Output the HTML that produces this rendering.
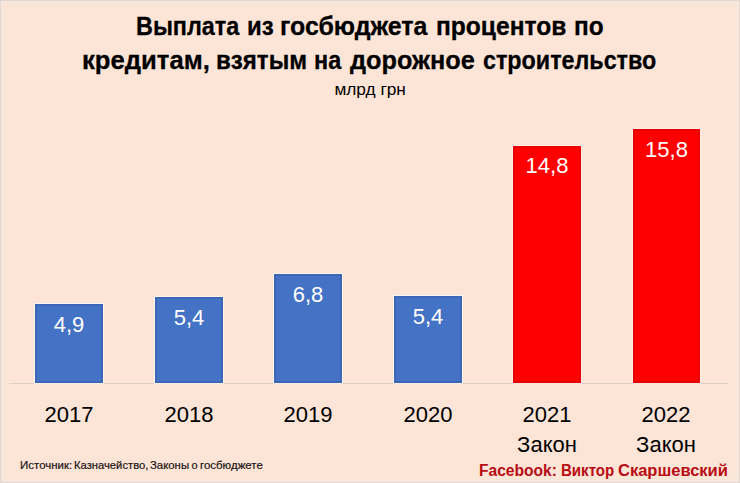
<!DOCTYPE html>
<html>
<head>
<meta charset="utf-8">
<style>
html,body{margin:0;padding:0;}
body{width:740px;height:483px;overflow:hidden;background:#FCE4D6;position:relative;font-family:"Liberation Sans",sans-serif;}
#frame{position:absolute;left:0;top:0;width:738px;height:481px;border:1px solid #E3D8CF;box-shadow:inset 0 0 0 1px rgba(243,231,222,0.9),inset 0 0 6px 2px rgba(246,234,220,0.8);}
.t{position:absolute;white-space:nowrap;line-height:1;}
.c{transform-origin:center top;}
.tw{position:absolute;white-space:nowrap;line-height:1;font-weight:bold;font-size:26px;color:#000;-webkit-text-stroke:0.3px #000;transform-origin:0 0;}
.sw{position:absolute;white-space:nowrap;line-height:1;top:460.4px;font-size:11px;color:#1c1414;-webkit-text-stroke:0.2px #1c1414;transform-origin:0 0;}
.fw{position:absolute;white-space:nowrap;line-height:1;top:462.8px;font-size:16px;font-weight:bold;color:#B80C14;transform-origin:0 0;}
.title{font-weight:bold;font-size:26px;color:#000;left:0;width:740px;text-align:center;}
.bar{position:absolute;}
.blue{background:#4472C4;box-shadow:0 0 0 1px rgba(255,255,255,0.6),inset 0 0 0 2px rgba(40,70,140,0.25);}
.red{background:#FF0000;box-shadow:0 0 0 1px rgba(255,245,240,0.6),inset 0 0 0 2px rgba(150,0,0,0.2);}
.lbl{color:#fff;font-size:22px;text-align:center;}
.yr{color:#000;font-size:22px;text-align:center;}
#axis{position:absolute;left:9px;top:383px;width:719px;height:1px;background:#DCCFC6;}
</style>
</head>
<body>
<div id="frame"></div>
<span class="tw" style="left:136.2px;top:13px;transform:scaleX(0.899);">Выплата</span>
<span class="tw" style="left:247.2px;top:13px;transform:scaleX(0.923);">из</span>
<span class="tw" style="left:280.4px;top:13px;transform:scaleX(0.957);">госбюджета</span>
<span class="tw" style="left:436.2px;top:13px;transform:scaleX(0.945);">процентов</span>
<span class="tw" style="left:573.5px;top:13px;transform:scaleX(0.938);">по</span>
<span class="tw" style="left:82.0px;top:47px;transform:scaleX(0.987);">кредитам,</span>
<span class="tw" style="left:215.9px;top:47px;transform:scaleX(0.927);">взятым</span>
<span class="tw" style="left:313.9px;top:47px;transform:scaleX(0.900);">на</span>
<span class="tw" style="left:350.3px;top:47px;transform:scaleX(0.973);">дорожное</span>
<span class="tw" style="left:483.4px;top:47px;transform:scaleX(0.896);">строительство</span>
<div class="t" style="top:81.5px;left:0;width:740px;text-align:center;font-size:16px;color:#000;"><span style="display:inline-block;transform:scaleX(1.078);">млрд грн</span></div>

<div id="axis"></div>
<div class="bar blue" style="left:35px;top:304px;width:68px;height:79px;"></div>
<div class="bar blue" style="left:155px;top:297px;width:68px;height:86px;"></div>
<div class="bar blue" style="left:274px;top:274px;width:68px;height:109px;"></div>
<div class="bar blue" style="left:394px;top:296px;width:68px;height:87px;"></div>
<div class="bar red" style="left:513px;top:146px;width:68px;height:237px;"></div>
<div class="bar red" style="left:633px;top:129px;width:67px;height:254px;"></div>

<div class="t lbl" style="left:19px;width:100px;top:313.5px;">4,9</div>
<div class="t lbl" style="left:139px;width:100px;top:306.5px;">5,4</div>
<div class="t lbl" style="left:258px;width:100px;top:283.5px;">6,8</div>
<div class="t lbl" style="left:378px;width:100px;top:305.5px;">5,4</div>
<div class="t lbl" style="left:497px;width:100px;top:155px;">14,8</div>
<div class="t lbl" style="left:616.5px;width:100px;top:138.5px;">15,8</div>

<div class="t yr" style="left:19px;width:100px;top:403.5px;">2017</div>
<div class="t yr" style="left:139px;width:100px;top:403.5px;">2018</div>
<div class="t yr" style="left:258px;width:100px;top:403.5px;">2019</div>
<div class="t yr" style="left:378px;width:100px;top:403.5px;">2020</div>
<div class="t yr" style="left:497px;width:100px;top:403.5px;">2021</div>
<div class="t yr" style="left:616px;width:100px;top:403.5px;">2022</div>
<div class="t yr" style="left:497px;width:100px;top:433.5px;">Закон</div>
<div class="t yr" style="left:616px;width:100px;top:433.5px;">Закон</div>

<span class="sw" style="left:19.8px;transform:scaleX(1.044);">Источник:</span>
<span class="sw" style="left:73.8px;transform:scaleX(1.021);">Казначейство,</span>
<span class="sw" style="left:149.5px;transform:scaleX(1.033);">Законы</span>
<span class="sw" style="left:191.6px;">о</span>
<span class="sw" style="left:199.9px;transform:scaleX(1.042);">госбюджете</span>
<span class="fw" style="left:479.3px;transform:scaleX(0.973);">Facebook:</span>
<span class="fw" style="left:560.6px;transform:scaleX(0.94);">Виктор</span>
<span class="fw" style="left:617.5px;transform:scaleX(1.032);">Скаршевский</span>
</body>
</html>
